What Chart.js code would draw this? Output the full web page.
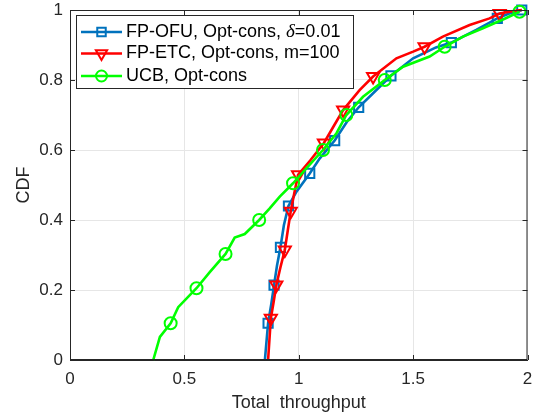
<!DOCTYPE html>
<html>
<head>
<meta charset="utf-8">
<script src="https://cdn.jsdelivr.net/npm/chart.js@4"></script>
<style>
  body { margin: 0; background: #fff; }
  canvas { display: block; }
</style>
</head>
<body>
<canvas id="cdfChart" width="536" height="419"></canvas>
<script>
// FP-OFU, Opt-cons, delta = 0.01
const ofuX = [0.852, 0.866, 0.88, 0.892, 0.905, 0.92, 0.935, 0.955, 0.99, 1.048, 1.092, 1.157, 1.21, 1.262, 1.325, 1.403, 1.5, 1.6, 1.667, 1.776, 1.868, 1.92, 1.975];
const ofuY = [0, 0.105, 0.16, 0.214, 0.27, 0.322, 0.385, 0.44, 0.481, 0.533, 0.576, 0.627, 0.68, 0.722, 0.762, 0.812, 0.862, 0.893, 0.907, 0.943, 0.976, 0.99, 1.0];
const ofuMarks = [1, 3, 5, 7, 9, 11, 13, 15, 18, 20, 22];

// FP-ETC, Opt-cons, m = 100
const etcX = [0.866, 0.878, 0.89, 0.902, 0.92, 0.939, 0.952, 0.965, 0.98, 0.997, 1.05, 1.11, 1.15, 1.194, 1.266, 1.325, 1.427, 1.5, 1.55, 1.63, 1.747, 1.834, 1.878, 1.94, 1.975];
const etcY = [0, 0.119, 0.165, 0.214, 0.265, 0.314, 0.37, 0.425, 0.475, 0.529, 0.57, 0.62, 0.665, 0.714, 0.771, 0.81, 0.862, 0.881, 0.895, 0.924, 0.957, 0.976, 0.99, 0.997, 1.0];
const etcMarks = [1, 3, 5, 7, 9, 11, 13, 15, 18, 22];

// UCB, Opt-cons
const ucbX = [0.364, 0.393, 0.44, 0.473, 0.553, 0.611, 0.68, 0.72, 0.764, 0.827, 0.873, 0.917, 0.975, 1.034, 1.106, 1.165, 1.208, 1.281, 1.376, 1.456, 1.572, 1.638, 1.718, 1.805, 1.9, 1.965];
const ucbY = [0, 0.066, 0.105, 0.151, 0.205, 0.251, 0.303, 0.35, 0.36, 0.4, 0.433, 0.467, 0.505, 0.548, 0.6, 0.648, 0.7, 0.752, 0.8, 0.838, 0.867, 0.895, 0.924, 0.948, 0.975, 0.995];
const ucbMarks = [2, 4, 6, 9, 12, 14, 16, 18, 21, 25];

const xTicks = [0, 0.5, 1, 1.5, 2];
const yTicks = [0, 0.2, 0.4, 0.6, 0.8, 1];

const axisColor = '#262626';
const sans = 'Liberation Sans, Arial, sans-serif';
const tickFont = { family: sans, size: 17 };
const titleFont = { family: sans, size: 18 };

function series(label, xs, ys, marks, color, style, rotation, radius, order) {
    return {
        label: label,
        data: xs.map((x, i) => ({ x: x, y: ys[i] })),
        showLine: true,
        borderColor: color,
        borderWidth: 2.6,
        pointStyle: style,
        pointRotation: rotation,
        pointRadius: ctx => marks.includes(ctx.dataIndex) ? radius : 0,
        pointHoverRadius: 0,
        pointBorderColor: color,
        pointBorderWidth: 2,
        pointBackgroundColor: 'rgba(0,0,0,0)',
        legendRadius: radius,
        clip: false,
        order: order
    };
}

// axes box with inward ticks on all four sides, then the legend box
const boxPlugin = {
    id: 'matlabBox',
    afterDatasetsDraw(chart) {
        const { ctx, chartArea: a, scales } = chart;
        ctx.save();
        ctx.strokeStyle = axisColor;
        ctx.lineWidth = 1;
        ctx.strokeRect(a.left + 0.5, a.top + 0.5, a.right - a.left - 1, a.bottom - a.top - 1);
        ctx.beginPath();
        xTicks.forEach(v => {
            const px = Math.round(scales.x.getPixelForValue(v)) + 0.5;
            ctx.moveTo(px, a.bottom); ctx.lineTo(px, a.bottom - 5);
            ctx.moveTo(px, a.top); ctx.lineTo(px, a.top + 5);
        });
        yTicks.forEach(v => {
            const py = Math.round(scales.y.getPixelForValue(v)) + 0.5;
            ctx.moveTo(a.left, py); ctx.lineTo(a.left + 5, py);
            ctx.moveTo(a.right, py); ctx.lineTo(a.right - 5, py);
        });
        ctx.stroke();

        // legend
        const lx = 76, ly = 15, lw = 277, lh = 73;
        ctx.fillStyle = '#fff';
        ctx.fillRect(lx, ly, lw, lh);
        ctx.strokeRect(lx + 0.5, ly + 0.5, lw, lh);
        const rows = [32, 53.5, 76];
        chart.data.datasets.forEach((d, i) => {
            const y = rows[i];
            ctx.strokeStyle = d.borderColor;
            ctx.lineWidth = 2.6;
            ctx.beginPath();
            ctx.moveTo(81, y); ctx.lineTo(122, y);
            ctx.stroke();
            ctx.lineWidth = 2;
            ctx.fillStyle = 'rgba(0,0,0,0)';
            Chart.helpers.drawPoint(ctx, {
                pointStyle: d.pointStyle,
                rotation: d.pointRotation,
                radius: d.legendRadius - 0.5,
                borderWidth: 2
            }, 101.5, y);
            ctx.fillStyle = '#000';
            ctx.textBaseline = 'middle';
            ctx.font = '18px ' + sans;
            let tx = 126;
            const parts = d.label.split('δ');
            ctx.fillText(parts[0], tx, y);
            if (parts.length > 1) {
                tx += ctx.measureText(parts[0]).width;
                ctx.font = 'italic 19px Liberation Serif, Times New Roman, serif';
                ctx.fillText('δ', tx, y);
                tx += ctx.measureText('δ').width;
                ctx.font = '18px ' + sans;
                ctx.fillText(parts[1], tx, y);
            }
        });
        ctx.restore();
    }
};

const ctxCdf = document.getElementById('cdfChart').getContext('2d');
const cdfChart = new Chart(ctxCdf, {
    type: 'scatter',
    data: {
        datasets: [
            series('FP-OFU, Opt-cons, δ=0.01', ofuX, ofuY, ofuMarks, '#0072BD', 'rect', 0, 6.5, 2),
            series('FP-ETC, Opt-cons, m=100', etcX, etcY, etcMarks, '#FF0000', 'triangle', 180, 7, 1),
            series('UCB, Opt-cons', ucbX, ucbY, ucbMarks, '#00FF00', 'circle', 0, 6, 0)
        ]
    },
    options: {
        responsive: false,
        animation: false,
        devicePixelRatio: 1,
        layout: { padding: { top: 10, right: 8, left: 0, bottom: 0 } },
        plugins: {
            legend: { display: false },
            tooltip: { enabled: false }
        },
        scales: {
            x: {
                type: 'linear',
                min: 0,
                max: 2,
                afterFit: scale => {
                    scale.height = 59;
                    scale.paddingLeft = 0;
                    scale.paddingRight = 0;
                },
                afterBuildTicks: scale => { scale.ticks = xTicks.map(v => ({ value: v })); },
                ticks: { color: axisColor, font: tickFont, padding: 9, maxRotation: 0, callback: v => String(v) },
                grid: { color: '#e6e6e6', drawTicks: false },
                border: { color: axisColor },
                title: {
                    display: true,
                    text: 'Total  throughput',
                    color: axisColor,
                    font: titleFont,
                    padding: { top: 0, bottom: 5 }
                }
            },
            y: {
                type: 'linear',
                min: 0,
                max: 1,
                afterFit: scale => {
                    scale.width = 70;
                    scale.paddingTop = 0;
                    scale.paddingBottom = 0;
                },
                afterBuildTicks: scale => { scale.ticks = yTicks.map(v => ({ value: v })); },
                ticks: { color: axisColor, font: tickFont, padding: 7, callback: v => String(v) },
                grid: { color: '#e6e6e6', drawTicks: false },
                border: { color: axisColor },
                title: {
                    display: true,
                    text: 'CDF',
                    color: axisColor,
                    font: titleFont,
                    padding: { top: 13, bottom: 0 }
                }
            }
        }
    },
    plugins: [boxPlugin]
});
</script>
</body>
</html>
